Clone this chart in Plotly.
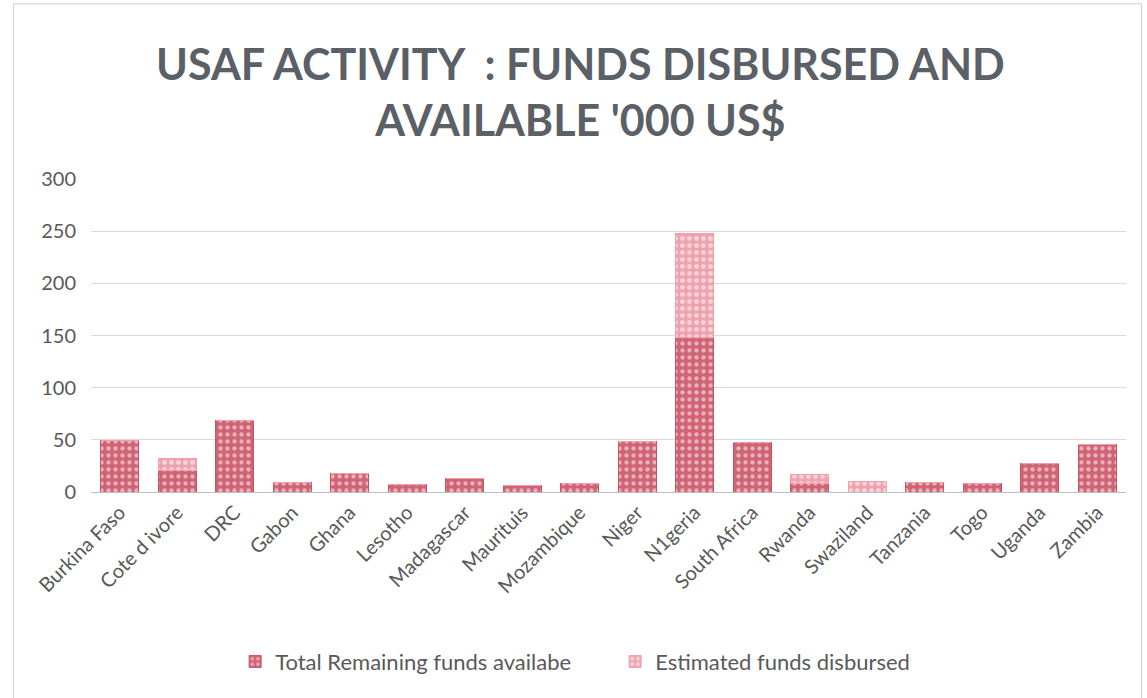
import plotly.graph_objects as go

countries = ["Burkina Faso", "Cote d ivore", "DRC", "Gabon", "Ghana", "Lesotho",
             "Madagascar", "Maurituis", "Mozambique", "Niger", "N1geria",
             "South Africa", "Rwanda", "Swaziland", "Tanzania", "Togo", "Uganda", "Zambia"]
remaining = [49, 21, 69, 9, 18, 7, 13, 6, 8, 48, 148, 47, 8, 0, 9, 8, 27, 46]
disbursed = [0, 11, 0, 0, 0, 0, 0, 0, 0, 0, 100, 0, 9, 10, 0, 0, 0, 0]
y_ticks = [0, 50, 100, 150, 200, 250, 300]

title_text = "USAF ACTIVITY  : FUNDS DISBURSED AND<br>AVAILABLE '000 US$"
font_family = "Lato, 'Open Sans', sans-serif"
text_color = "#595959"

fig = go.Figure()
fig.add_trace(go.Bar(
    x=countries, y=remaining, name="Total Remaining funds availabe",
    marker=dict(color="#d06474", line=dict(color="#c95466", width=1),
                pattern=dict(shape=".", fgcolor="#ffffff", size=7, solidity=0.3)),
))
fig.add_trace(go.Bar(
    x=countries, y=disbursed, name="Estimated funds disbursed",
    marker=dict(color="#eea2b0", line=dict(color="#efa0ae", width=1),
                pattern=dict(shape=".", fgcolor="#ffffff", size=7, solidity=0.4)),
))

fig.update_layout(
    width=1147, height=698,
    barmode="stack", bargap=0.34,
    paper_bgcolor="white", plot_bgcolor="white",
    margin=dict(l=91, r=21, t=179, b=206),
    font=dict(family=font_family, color=text_color),
    title=dict(text=title_text, x=0.506, xanchor="center", xref="container",
               y=0.885, yanchor="top", yref="container",
               font=dict(family=font_family, size=43, color="#5a6066", weight="bold")),
    xaxis=dict(tickangle=-45, tickfont=dict(size=20, color=text_color),
               showline=True, linecolor="#bfbfbf", linewidth=1, ticks=""),
    yaxis=dict(range=[0, 300], tickvals=y_ticks, tickfont=dict(size=20, color=text_color),
               showgrid=True, gridcolor="#d9d9d9", gridwidth=1, zeroline=False,
               ticklabelstandoff=14),
    legend=dict(orientation="h", x=0.205, xanchor="left", xref="container",
                y=0.022, yanchor="bottom", yref="container",
                font=dict(size=22, color=text_color), traceorder="normal",
                itemwidth=30, entrywidth=335, entrywidthmode="pixels"),
    shapes=[dict(type="rect", xref="paper", yref="paper", x0=-0.075, x1=1.015,
                 y0=-0.66, y1=1.56, line=dict(color="#d0d0d0", width=1))],
)

fig.write_html("out.html")
